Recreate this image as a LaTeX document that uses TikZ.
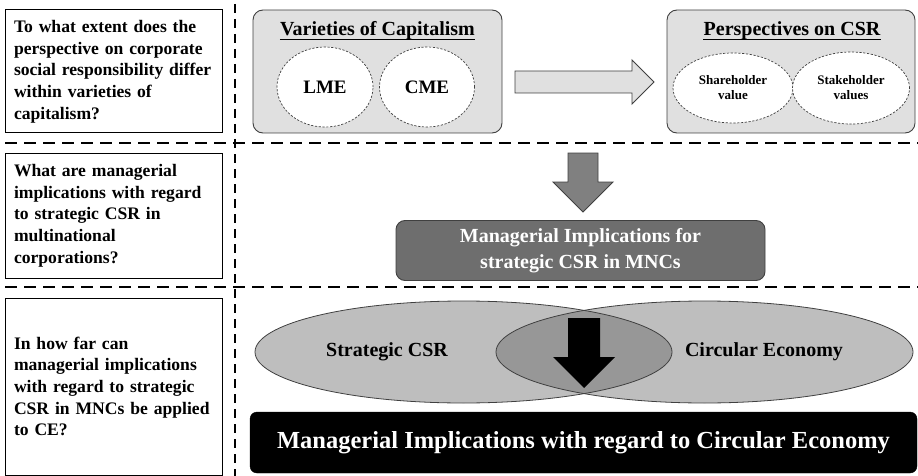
\documentclass[tikz,border=0pt]{standalone}
\usepackage{fontspec}
\setmainfont{Liberation Serif}
\usetikzlibrary{shapes.geometric}
\definecolor{grpfill}{HTML}{E0E0E0}
\definecolor{grpdraw}{HTML}{404040}
\definecolor{arrgray}{HTML}{808080}
\definecolor{mgrfill}{HTML}{6E6E6E}
\definecolor{venlight}{HTML}{BEBEBE}
\definecolor{vendark}{HTML}{979797}
\definecolor{vendraw}{HTML}{404040}
\newcommand\qboxfont{\fontsize{17.6}{21.7}\selectfont\bfseries\hyphenpenalty=10000\relax\exhyphenpenalty=10000\relax}
\begin{document}
\begin{tikzpicture}[x=1pt,y=-1pt,
  qbox/.style={draw=black, line width=1pt, fill=white, text width=199pt, inner xsep=9pt,
    inner ysep=0pt, align=left, font=\qboxfont},
  grpbox/.style={draw=grpdraw, line width=0.9pt, fill=grpfill, rounded corners=10pt,
    minimum width=248pt, minimum height=123pt, inner sep=0pt},
  grptitle/.style={font=\fontsize{20}{24}\selectfont\bfseries, anchor=base, inner sep=0pt},
  dashell/.style={ellipse, draw=grpdraw, dash pattern=on 2.2pt off 1.6pt, line width=0.7pt,
    fill=white, inner sep=0pt, align=center},
  divline/.style={line width=1.8pt, dash pattern=on 12pt off 7pt},
  vline/.style={line width=1.6pt, dash pattern=on 9pt off 6pt},
  vennell/.style={line width=0.8pt, draw=vendraw},
  venntext/.style={font=\fontsize{20}{24}\selectfont\bfseries, inner sep=0pt},
]
\useasboundingbox (0,0) rectangle (918,476);

% separating lines
\draw[divline] (5,143) -- (918,143);
\draw[divline] (5,287) -- (918,287);
\draw[vline] (235,4) -- (235,476);

% question boxes
\node[qbox, minimum height=123pt] (q1) at (113.5,71.5)
  {To what extent does the\\perspective on corporate\\social responsibility differ\\within varieties of\\capitalism?};
\node[qbox, minimum height=125pt] (q2) at (113.5,215.5)
  {What are managerial\\implications with regard\\to strategic CSR in\\multinational\\corporations?};
\node[qbox, minimum height=177pt] (q3) at (113.5,386.5)
  {In how far can\\managerial implications\\with regard to strategic\\CSR in MNCs be applied\\to CE?};

% Varieties of Capitalism
\node[grpbox, minimum width=249pt] (voc) at (377.5,71.5) {};
\node[grptitle] (voct) at (377.5,36) {Varieties of Capitalism};
\draw[line width=1.2pt] ([yshift=-3.2pt]voct.base west) -- ([yshift=-3.2pt]voct.base east);
\node[dashell, minimum width=96pt, minimum height=80pt, font=\fontsize{19}{22}\selectfont\bfseries] (lme) at (325,87) {LME};
\node[dashell, minimum width=95pt, minimum height=80pt, font=\fontsize{19}{22}\selectfont\bfseries] (cme) at (427,87) {CME};

% Perspectives on CSR
\node[grpbox] (pcsr) at (791,71.5) {};
\node[grptitle] (pcsrt) at (792,36) {Perspectives on CSR};
\draw[line width=1.2pt] ([yshift=-3.2pt]pcsrt.base west) -- ([yshift=-3.2pt]pcsrt.base east);
\node[dashell, minimum width=120pt, minimum height=70pt, font=\fontsize{13}{15}\selectfont\bfseries] (sh) at (733,88) {Shareholder\\value};
\node[dashell, minimum width=117pt, minimum height=72pt, font=\fontsize{13}{15}\selectfont\bfseries] (st) at (851,88) {Stakeholder\\values};

% right block arrow
\draw[fill=grpfill, draw=grpdraw, line width=0.9pt]
  (515,71) -- (632,71) -- (632,60) -- (654,82) -- (632,104) -- (632,93) -- (515,93) -- cycle;

% gray down arrow
\draw[fill=arrgray, draw=grpdraw, line width=0.9pt]
  (568,153) -- (598,153) -- (598,182) -- (613,182) -- (583,212) -- (553,182) -- (568,182) -- cycle;

% managerial implications box
\node[draw=grpdraw, line width=0.9pt, fill=mgrfill, rounded corners=9pt, minimum width=369pt,
  minimum height=60pt, inner sep=0pt, text=white, align=center,
  font=\fontsize{20}{25.5}\selectfont\bfseries] (mi) at (580.5,250.5)
  {Managerial Implications for\\strategic CSR in MNCs};

% Venn diagram
\fill[venlight] (463.5,352) ellipse [x radius=208.5pt, y radius=51pt];
\fill[venlight] (704.5,352) ellipse [x radius=208.5pt, y radius=51pt];
\begin{scope}
  \clip (463.5,352) ellipse [x radius=208.5pt, y radius=51pt];
  \fill[vendark] (704.5,352) ellipse [x radius=208.5pt, y radius=51pt];
\end{scope}
\draw[vennell] (463.5,352) ellipse [x radius=208.5pt, y radius=51pt];
\draw[vennell] (704.5,352) ellipse [x radius=208.5pt, y radius=51pt];
\node[venntext] (scsr) at (387,352) {Strategic CSR};
\node[venntext] (ce) at (764,352) {Circular Economy};

% black down arrow
\fill[black]
  (568,318) -- (600,318) -- (600,357) -- (615,357) -- (584,388) -- (553,357) -- (568,357) -- cycle;

% black result box
\node[draw=black, fill=black, rounded corners=7pt, minimum width=667pt, minimum height=61pt,
  inner sep=0pt, text=white, font=\fontsize{24.5}{28}\selectfont\bfseries] (mice) at (583.5,442.5)
  {Managerial Implications with regard to Circular Economy};
\end{tikzpicture}
\end{document}
